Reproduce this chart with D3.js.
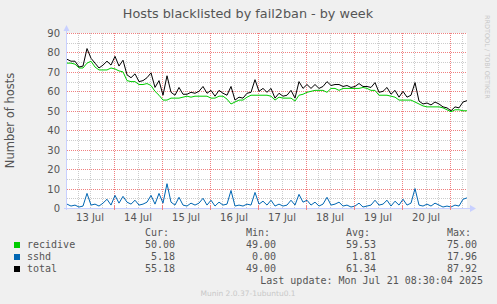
<!DOCTYPE html>
<html><head><meta charset="utf-8">
<script src="https://cdn.jsdelivr.net/npm/d3@7"></script>
<style>
html,body{margin:0;padding:0;background:#f0f0f0;}
svg{display:block;}
</style></head>
<body>
<script>
// ---- data ----
const startTime = Date.UTC(2025, 6, 13, 0, 30);   // first sample
const stepHours = 2;
const recidive = [74.5,74.5,74,72,72,74.5,75.5,72.5,71,71,71,72,71.5,70.5,70,65.5,65,65,63.5,63.5,
  64,63,60,58,55.5,55.5,56.5,56.5,56.5,57,57.5,57,57.5,57.5,57.5,57.5,56.5,56.5,57.5,57.5,
  56,53.5,54.5,55.5,55.5,57,58,58,58,58,58,57.5,55.5,57,56.5,56.5,56.5,55,58,58.5,
  59.5,60,60.5,60.5,60.5,59.5,61.5,61.5,60.5,61.5,61.5,61.5,61.5,61.5,62,61.5,60.5,60.5,58,58,
  58,57.5,57,55.5,55.5,55.5,55.5,54.5,53.5,52.5,52,52,52,52,51.5,50.5,49.5,50.5,50.5,50,50];
const sshd = [2,1,1.5,0.5,1,7.5,1.5,2,1,2.5,4.5,1.5,6.5,2.5,6,3,2,4,1.5,2,
  3,6.5,2,7.5,2.5,12.5,3,1.5,5.5,1.5,1,2.5,1.5,2.5,5,1.5,4,1,3,1.5,
  2,9,1,1.5,1,2,1.5,8,2,3.5,1.5,4,1,2,1,1.5,4,1.5,7,3,
  4,1.5,3,1,2,5.5,1.5,2,3,1,1.5,0.5,1,2.5,0.5,1,1.5,4,1.5,2,
  4,1,3.5,1.5,4.5,1.5,2.5,10,1.5,1,2,1,2.5,1.5,0.5,1,0.5,1.5,1,4.5,5.2];
const seriesNames = ["recidive", "sshd", "total"];
const seriesColors = ["#00cc00", "#0066b3", "#000000"];
const statHeaders = ["Cur:", "Min:", "Avg:", "Max:"];
const statValues = [
  ["50.00", "49.00", "59.53", "75.00"],
  ["5.18", "0.00", "1.81", "17.96"],
  ["55.18", "49.00", "61.34", "87.92"]
];
const yTicks = [0, 10, 20, 30, 40, 50, 60, 70, 80, 90];
const titleText = "Hosts blacklisted by fail2ban - by week";
const yLabel = "Number of hosts";
const lastUpdate = "Last update: Mon Jul 21 08:30:04 2025";
const muninText = "Munin 2.0.37-1ubuntu0.1";
const rrdText = "RRDTOOL / TOBI OETIKER";

// ---- build table ----
const rows = recidive.map((r, i) => ({
  t: new Date(startTime + i * stepHours * 3600e3),
  recidive: r, sshd: sshd[i], total: r + sshd[i]
}));

const W = 497, H = 304;
const L = 67, R = 467, T = 33, B = 208;
const svg = d3.select("body").append("svg").attr("width", W).attr("height", H);
svg.append("rect").attr("width", W).attr("height", H).attr("fill", "#f0f0f0");

const x = d3.scaleTime().domain([rows[0].t, rows[rows.length - 1].t]).range([L, R]);
const y = d3.scaleLinear().domain([0, 90]).range([B, T]);

svg.append("rect").attr("x", L).attr("y", T).attr("width", R - L).attr("height", B - T).attr("fill", "#ffffff");

const sans = "DejaVu Sans, sans-serif";
const mono = "DejaVu Sans Mono, monospace";

// grid
const g = svg.append("g").attr("shape-rendering", "crispEdges");
const minorY = d3.range(5, 90, 10);
g.selectAll(".hmin").data(minorY).enter().append("line")
  .attr("x1", L).attr("x2", R).attr("y1", d => Math.round(y(d)) + 0.5).attr("y2", d => Math.round(y(d)) + 0.5)
  .attr("stroke", "#cccccc").attr("stroke-dasharray", "1,1");
const minorX = d3.utcHour.every(6).range(x.domain()[0], x.domain()[1]).filter(d => d.getUTCHours() !== 0);
g.selectAll(".vmin").data(minorX).enter().append("line")
  .attr("y1", T).attr("y2", B).attr("x1", d => Math.round(x(d)) + 0.5).attr("x2", d => Math.round(x(d)) + 0.5)
  .attr("stroke", "#cccccc").attr("stroke-dasharray", "1,1");
g.selectAll(".hmaj").data(yTicks.filter(d => d > 0)).enter().append("line")
  .attr("x1", L).attr("x2", R).attr("y1", d => Math.round(y(d)) + 0.5).attr("y2", d => Math.round(y(d)) + 0.5)
  .attr("stroke", "#f08080").attr("stroke-dasharray", "1,1");
const majorX = d3.utcDay.range(x.domain()[0], x.domain()[1]);
g.selectAll(".vmaj").data(majorX).enter().append("line")
  .attr("y1", T).attr("y2", B).attr("x1", d => Math.round(x(d)) + 0.5).attr("x2", d => Math.round(x(d)) + 0.5)
  .attr("stroke", "#f08080").attr("stroke-dasharray", "1,1");

// y tick labels
svg.selectAll(".yl").data(yTicks).enter().append("text")
  .attr("x", 60).attr("y", d => y(d) + 4).attr("text-anchor", "end")
  .attr("font-family", sans).attr("font-size", 10).attr("fill", "#555").text(d => d);
// x labels at noon
const noons = d3.utcHour.every(12).range(x.domain()[0], x.domain()[1]).filter(d => d.getUTCHours() === 12);
const fmt = d3.utcFormat("%-d %b");
svg.selectAll(".xl").data(noons).enter().append("text")
  .attr("x", d => x(d)).attr("y", 221).attr("text-anchor", "middle")
  .attr("font-family", sans).attr("font-size", 10).attr("fill", "#555").text(d => fmt(d));

// lines
const keys = ["recidive", "sshd", "total"];
keys.forEach((k, i) => {
  svg.append("path").datum(rows)
    .attr("d", d3.line().x(d => x(d.t)).y(d => y(d[k])))
    .attr("fill", "none").attr("stroke", seriesColors[i]).attr("stroke-width", 1);
});

// axes
const ax = svg.append("g").attr("shape-rendering", "crispEdges");
ax.append("line").attr("x1", L - 0.5).attr("x2", L - 0.5).attr("y1", B + 2).attr("y2", T - 4).attr("stroke", "#c8d0ff");
ax.append("line").attr("x1", L - 3).attr("x2", R + 4).attr("y1", B + 0.5).attr("y2", B + 0.5).attr("stroke", "#c8d0ff");
svg.append("path").attr("d", `M${L - 3.5},${T - 2} L${L - 0.5},${T - 8} L${L + 2.5},${T - 2} Z`).attr("fill", "#c8d0ff");
svg.append("path").attr("d", `M${R + 3},${B - 3} L${R + 9},${B + 0.5} L${R + 3},${B + 4} Z`).attr("fill", "#c8d0ff");
ax.selectAll(".tk").data(majorX).enter().append("line")
  .attr("x1", d => Math.round(x(d)) + 0.5).attr("x2", d => Math.round(x(d)) + 0.5)
  .attr("y1", B - 2).attr("y2", B + 2).attr("stroke", "#f08080");

// title
svg.append("text").attr("x", 248).attr("y", 18).attr("text-anchor", "middle")
  .attr("font-family", sans).attr("font-size", 12.8).attr("fill", "#555").text(titleText);
svg.append("text").attr("transform", `translate(14,${(T + B) / 2}) rotate(-90)`).attr("text-anchor", "middle")
  .attr("font-family", sans).attr("font-size", 11.5).attr("fill", "#555").text(yLabel);
svg.append("text").attr("transform", `translate(485,15) rotate(90)`).attr("text-anchor", "start")
  .attr("font-family", sans).attr("font-size", 6.5).attr("fill", "#c8c8c8").text(rrdText);

// legend
const colRight = [175, 276, 376, 477];
statHeaders.forEach((h, j) => {
  svg.append("text").attr("x", colRight[j] - 6).attr("y", 236).attr("text-anchor", "end")
    .attr("font-family", mono).attr("font-size", 10).attr("fill", "#555").text(h);
});
seriesNames.forEach((n, i) => {
  const yy = 248 + i * 12;
  svg.append("rect").attr("x", 14).attr("y", yy - 6).attr("width", 6).attr("height", 6).attr("fill", seriesColors[i]);
  svg.append("text").attr("x", 27).attr("y", yy).attr("font-family", mono).attr("font-size", 10).attr("fill", "#555").text(n);
  statValues[i].forEach((v, j) => {
    svg.append("text").attr("x", colRight[j]).attr("y", yy).attr("text-anchor", "end")
      .attr("font-family", mono).attr("font-size", 10).attr("fill", "#555").text(v);
  });
});
svg.append("text").attr("x", 483).attr("y", 284).attr("text-anchor", "end")
  .attr("font-family", mono).attr("font-size", 10).attr("fill", "#555").text(lastUpdate);
svg.append("text").attr("x", 248).attr("y", 296).attr("text-anchor", "middle")
  .attr("font-family", sans).attr("font-size", 7.5).attr("fill", "#c8c8c8").text(muninText);
</script>
</body></html>
